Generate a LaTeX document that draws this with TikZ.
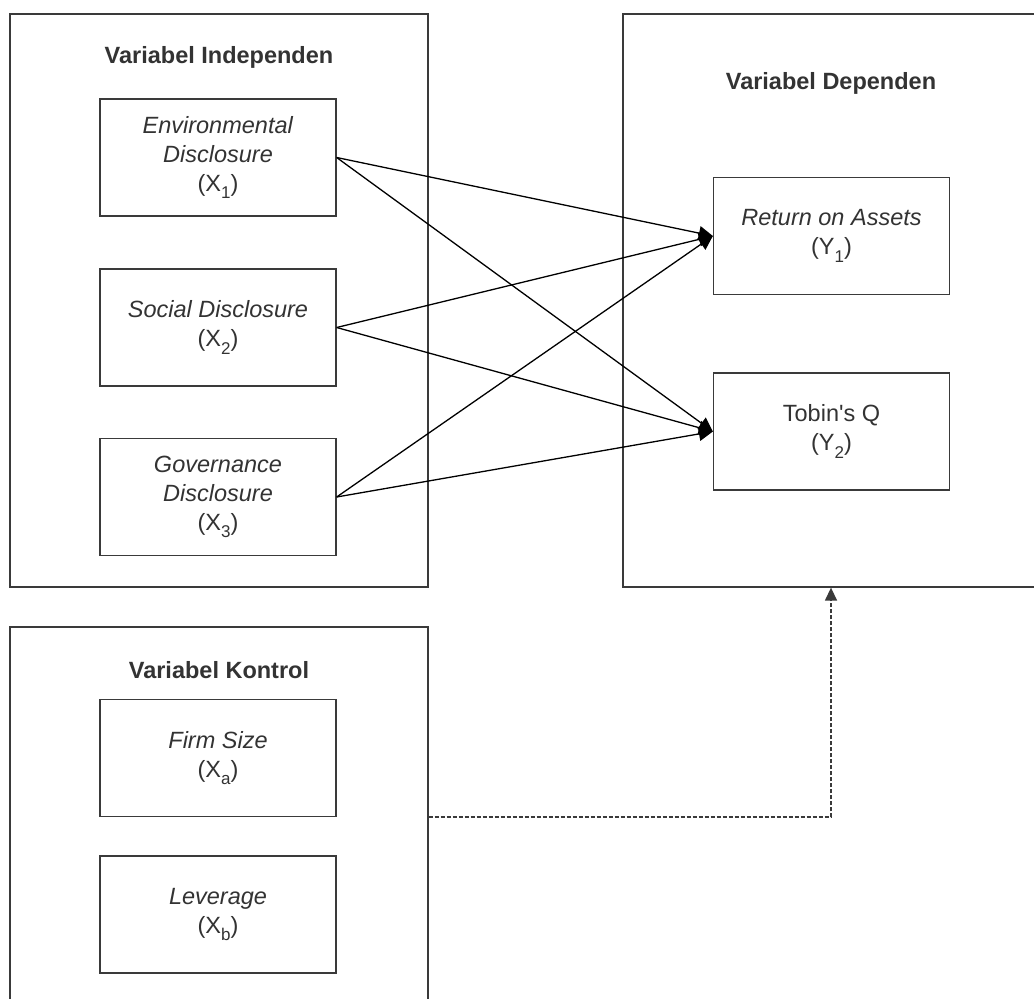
\documentclass[tikz,border=0pt]{standalone}
\usepackage{fontspec}
\setmainfont{Liberation Sans}
\usetikzlibrary{arrows.meta}
\definecolor{ink}{HTML}{333333}
\definecolor{edge}{HTML}{3A3A3A}
\newcommand\lowsub[1]{\raisebox{-0.6ex}{\fontsize{17}{17}\selectfont #1}}
\tikzset{
  frame/.style={draw=edge, line width=1.3pt, rectangle, inner sep=0pt},
  varbox/.style={draw=edge, line width=1.3pt, rectangle, inner sep=0pt,
    minimum width=236pt, minimum height=117pt, align=center, text=ink,
    font=\fontsize{23.5}{29}\selectfont},
  title/.style={text=ink, font=\fontsize{23.5}{28}\selectfont\bfseries},
  arr/.style={draw=black, line width=1.3pt, -{Triangle[length=14pt,width=14pt]}},
  darr/.style={draw=edge, line width=1.4pt, dash pattern=on 4pt off 2pt,
    -{Triangle[length=13pt,width=12pt]}}
}
\begin{document}
\begin{tikzpicture}[x=1pt,y=-1pt]
\useasboundingbox (0,0) rectangle (1034,999);
\clip (0,0) rectangle (1034,999);
\fill[white] (0,0) rectangle (1034,999);
% outer frames
\node[frame, minimum width=418pt, minimum height=573pt] (indep) at (219,300.5) {};
\node[frame, minimum width=416pt, minimum height=573pt] (dep) at (831,300.5) {};
\node[frame, minimum width=418pt, minimum height=380pt] (kont) at (219,817) {};
% titles
\node[title] (tindep) at (219,57) {Variabel Independen};
\node[title] (tdep) at (831,83) {Variabel Dependen};
\node[title] (tkont) at (219,670) {Variabel Kontrol};
% variable boxes
\node[varbox] (env) at (218,157.5) {\textit{Environmental}\\\textit{Disclosure}\\(X\lowsub{1})};
\node[varbox] (soc) at (218,327.5) {\textit{Social Disclosure}\\(X\lowsub{2})};
\node[varbox] (gov) at (218,497) {\textit{Governance}\\\textit{Disclosure}\\(X\lowsub{3})};
\node[varbox] (roa) at (831.5,236) {\textit{Return on Assets}\\(Y\lowsub{1})};
\node[varbox] (tob) at (831.5,431.5) {Tobin\textquotesingle s Q\\(Y\lowsub{2})};
\node[varbox] (firm) at (218,758) {\textit{Firm Size}\\(X\lowsub{a})};
\node[varbox] (lev) at (218,914.5) {\textit{Leverage}\\(X\lowsub{b})};
% arrows
\draw[arr] (env.east) -- (roa.west);
\draw[arr] (env.east) -- (tob.west);
\draw[arr] (soc.east) -- (roa.west);
\draw[arr] (soc.east) -- (tob.west);
\draw[arr] (gov.east) -- (roa.west);
\draw[arr] (gov.east) -- (tob.west);
\draw[darr] (kont.east) -| (dep.south);
\end{tikzpicture}
\end{document}
